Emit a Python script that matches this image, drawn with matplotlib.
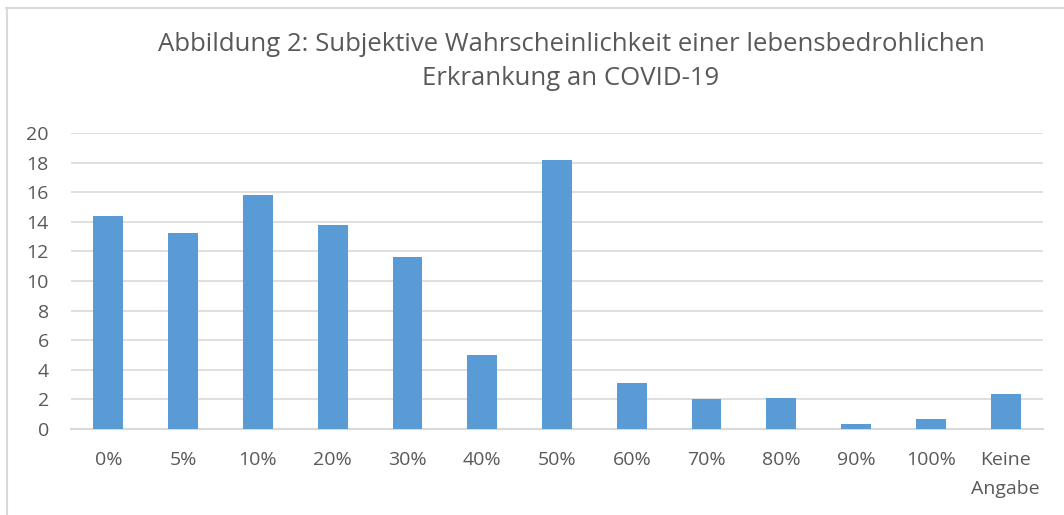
import matplotlib
matplotlib.use("Agg")
import matplotlib.pyplot as plt
from matplotlib.lines import Line2D

categories = ["0%", "5%", "10%", "20%", "30%", "40%", "50%", "60%", "70%", "80%", "90%", "100%", "Keine\nAngabe"]
values = [14.39, 13.22, 15.79, 13.76, 11.62, 5.0, 18.18, 3.09, 2.0, 2.12, 0.31, 0.65, 2.36]
yticks = [0, 2, 4, 6, 8, 10, 12, 14, 16, 18, 20]
title = "Abbildung 2: Subjektive Wahrscheinlichkeit einer lebensbedrohlichen\nErkrankung an COVID-19"

plt.rcParams['font.family'] = ['Open Sans', 'DejaVu Sans']
W, H = 1064, 515
fig = plt.figure(figsize=(W / 100, H / 100), dpi=100)
ax = fig.add_axes([71 / W, 1 - 429 / H, (1043 - 71) / W, (429 - 133) / H])

x = list(range(len(categories)))
ax.bar(x, values, width=0.4, color="#5B9BD5", zorder=3)
ax.set_xlim(-0.5, len(categories) - 0.5)
ax.set_ylim(0, 20)
ax.set_yticks(yticks)
ax.set_xticks(x)
ax.set_xticklabels(categories, linespacing=1.75)
ax.yaxis.grid(True, color="#D9D9D9", linewidth=1.2, zorder=0)
ax.set_axisbelow(True)
for s in ["top", "right", "left"]:
    ax.spines[s].set_visible(False)
ax.spines["bottom"].set_color("#D9D9D9")
ax.spines["bottom"].set_linewidth(1.5)
ax.tick_params(axis="both", length=0, labelsize=14, labelcolor="#595959")
ax.tick_params(axis="x", pad=16)
ax.tick_params(axis="y", pad=16)
for lbl in ax.get_xticklabels():
    lbl.set_verticalalignment("top")

fig.text(571 / W, 1 - 61.5 / H, title, ha="center", va="center", fontsize=18.5,
         color="#595959", linespacing=1.5)

# chart-area border (top and left edges visible)
fig.add_artist(Line2D([6 / W, 1], [1 - 7.5 / H, 1 - 7.5 / H], color="#D9D9D9", linewidth=1.5))
fig.add_artist(Line2D([6.5 / W, 6.5 / W], [0, 1 - 7.5 / H], color="#D9D9D9", linewidth=1.5))

fig.savefig("out.png", dpi=100)
